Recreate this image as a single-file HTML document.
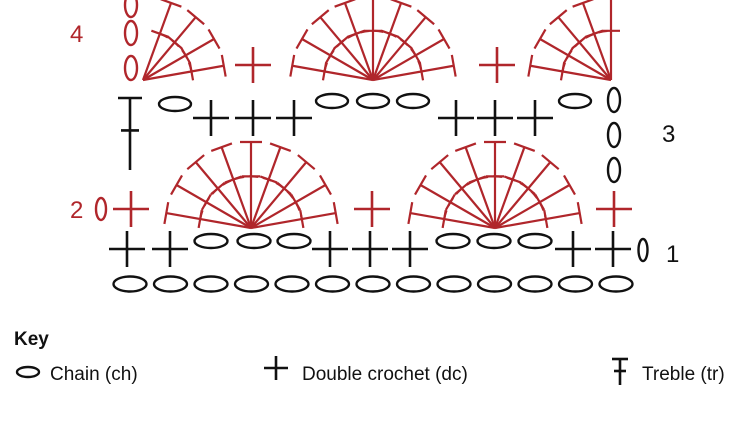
<!DOCTYPE html>
<html><head><meta charset="utf-8"><style>
body{margin:0;background:#fff;width:750px;height:421px;overflow:hidden;font-family:"Liberation Sans",sans-serif}
svg{position:absolute;left:0;top:0}
</style></head><body>
<svg id="s" width="750" height="421" xmlns="http://www.w3.org/2000/svg">
<g font-family="Liberation Sans, sans-serif" font-size="24">
<text x="70" y="42" fill="#b0262b">4</text>
<text x="70" y="218" fill="#b0262b">2</text>
<text x="662" y="142" fill="#111">3</text>
<text x="666" y="262" fill="#111">1</text>
<text x="14" y="345" font-size="19" font-weight="bold" fill="#111">Key</text>
<text x="50" y="380" font-size="19" fill="#111">Chain (ch)</text>
<text x="302" y="380" font-size="19" fill="#111">Double crochet (dc)</text>
<text x="642" y="380" font-size="19" fill="#111">Treble (tr)</text>
</g>
<g id="g"></g>
</svg>
<script>
var g=document.getElementById('g'),h='';
var R='#b0262b',K='#111';
function L(x1,y1,x2,y2,c,w){h+='<line x1="'+x1+'" y1="'+y1+'" x2="'+x2+'" y2="'+y2+'" stroke="'+c+'" stroke-width="'+(w||2.6)+'"/>';}
function E(x,y,rx,ry,c){h+='<ellipse cx="'+x+'" cy="'+y+'" rx="'+rx+'" ry="'+ry+'" fill="none" stroke="'+c+'" stroke-width="2.4"/>';}
function P(x,y,c){L(x-18,y,x+18,y,c);L(x,y-18,x,y+18,c);}
function T(x,y1,y2,c){L(x-12,y1,x+12,y1,c);L(x,y1,x,y2,c);L(x-9,y1+(y2-y1)*0.45,x+9,y1+(y2-y1)*0.45,c);}
function fan(cx,cy,r,angs){
  var ri=r*0.6;
  angs.forEach(function(a){var t=a*Math.PI/180,c=Math.cos(t),s=Math.sin(t);
    var x=cx+r*c,y=cy-r*s;L(cx,cy,x,y,R,2.2);
    L(x-11*s,y-11*c,x+11*s,y+11*c,R,2.2);
    var xm=cx+ri*c,ym=cy-ri*s;L(xm-9*s,ym-9*c,xm+9*s,ym+9*c,R,2.2);});
  var a0=Math.max.apply(null,angs)*Math.PI/180,a1=Math.min.apply(null,angs)*Math.PI/180;
  h+='<path d="M'+(cx+ri*Math.cos(a0))+' '+(cy-ri*Math.sin(a0))+' A'+ri+' '+ri+' 0 0 1 '+(cx+ri*Math.cos(a1))+' '+(cy-ri*Math.sin(a1))+'" fill="none" stroke="'+R+'" stroke-width="2.2" stroke-dasharray="9 5"/>';
}
var full=[170,150,130,110,90,70,50,30,10];
for(var i=0;i<13;i++)E(130+i*40.5,284,16.5,7.5,K);
[127,170,330,370,410,573,613].forEach(function(x){P(x,249,K)});
[211,254,294,453,494,535].forEach(function(x){E(x,241,16.5,7,K)});
E(643,250,4.5,11,K);
E(101,209,5,11,R);P(131,209,R);P(372,209,R);P(614,209,R);
fan(251,228,86,full);fan(495,228,86,full);
T(130,98,170,K);E(175,104,16,7,K);
[211,253,294,456,495,535].forEach(function(x){P(x,118,K)});
[332,373,413,575].forEach(function(x){E(x,101,16,7,K)});
[100,135,170].forEach(function(y){E(614,y,6,12,K)});
[5,33,68].forEach(function(y){E(131,y,6,12,R)});
fan(143,80,82,[10,30,50,70]);
P(253,65,R);P(497,65,R);
fan(373,80,82,full);
fan(611,80,82,[90,110,130,150,170]);
E(28,372,11,5,K);
L(264,368,288,368,K);L(276,356,276,380,K);
L(612,359,628,359,K);L(620,359,620,385,K);L(614,371,626,371,K);
g.innerHTML=h;
</script>
</body></html>
